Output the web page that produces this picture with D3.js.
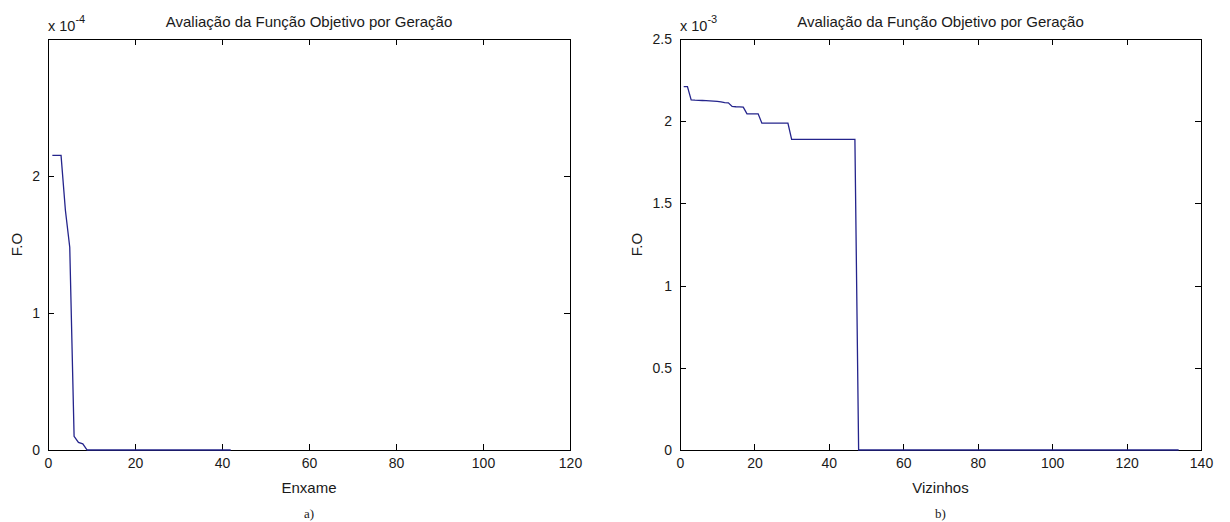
<!DOCTYPE html>
<html>
<head>
<meta charset="utf-8">
<script src="https://cdn.jsdelivr.net/npm/d3@7"></script>
<style>
  body { margin: 0; background: white; }
  svg { display: block; font-family: "Liberation Sans", Arial, sans-serif; }
  .frame { fill: none; stroke: black; stroke-width: 1px; shape-rendering: crispEdges; }
  .axis path { display: none; }
  .axis line { stroke: black; stroke-width: 1px; shape-rendering: crispEdges; }
  .axis text { font-size: 14px; fill: #1a1a1a; font-family: "Liberation Sans", Arial, sans-serif; }
  .title, .xlabel, .ylabel { font-size: 15px; fill: #1a1a1a; }
  .expo { font-size: 14.5px; fill: #1a1a1a; }
  .sub { font-family: "Liberation Serif", "Times New Roman", serif; font-size: 13px; fill: #1a1a1a; }
  .line { fill: none; stroke: #24248c; stroke-width: 1.3px; }
</style>
</head>
<body>
<svg id="svg" width="1230" height="522"></svg>
<script>
// chart a) Enxame  (F.O in units of 1e-4), one value per generation starting at 1
var enxameFO = [
  2.15, 2.15, 2.15, 1.75, 1.48, 0.10, 0.055, 0.045, 0, 0,
  0, 0, 0, 0, 0, 0, 0, 0, 0, 0,
  0, 0, 0, 0, 0, 0, 0, 0, 0, 0,
  0, 0, 0, 0, 0, 0, 0, 0, 0, 0,
  0, 0
];
var enxameXTicks = [0, 20, 40, 60, 80, 100, 120];
var enxameYTicks = [0, 1, 2];

// chart b) Vizinhos  (F.O in units of 1e-3)
var vizinhosFO = [
  2.21, 2.21, 2.13, 2.128, 2.127, 2.126, 2.125, 2.124, 2.122, 2.12,
  2.117, 2.113, 2.112, 2.09, 2.088, 2.087, 2.086, 2.045, 2.045, 2.045,
  2.045, 1.988, 1.988, 1.988, 1.988, 1.988, 1.988, 1.988, 1.988, 1.89,
  1.89, 1.89, 1.89, 1.89, 1.89, 1.89, 1.89, 1.89, 1.89, 1.89,
  1.89, 1.89, 1.89, 1.89, 1.89, 1.89, 1.89, 0, 0, 0,
  0, 0, 0, 0, 0, 0, 0, 0, 0, 0,
  0, 0, 0, 0, 0, 0, 0, 0, 0, 0,
  0, 0, 0, 0, 0, 0, 0, 0, 0, 0,
  0, 0, 0, 0, 0, 0, 0, 0, 0, 0,
  0, 0, 0, 0, 0, 0, 0, 0, 0, 0,
  0, 0, 0, 0, 0, 0, 0, 0, 0, 0,
  0, 0, 0, 0, 0, 0, 0, 0, 0, 0,
  0, 0, 0, 0, 0, 0, 0, 0, 0, 0,
  0, 0, 0, 0
];
var vizinhosXTicks = [0, 20, 40, 60, 80, 100, 120, 140];
var vizinhosYTicks = [0, 0.5, 1, 1.5, 2, 2.5];

var titleText = "Avaliação da Função Objetivo por Geração";

var svg = d3.select("#svg");

function drawPanel(p) {
  var w = p.right - p.left, h = p.bottom - p.top;
  var g = svg.append("g").attr("transform", "translate(" + p.left + "," + p.top + ")");

  var x = d3.scaleLinear().domain(p.xDomain).range([0, w]);
  var y = d3.scaleLinear().domain(p.yDomain).range([h, 0]);

  var fmt = function(d) { return String(d); };

  g.append("g").attr("class", "x axis").attr("transform", "translate(0," + h + ")")
    .call(d3.axisBottom(x).tickValues(p.xTicks).tickSizeInner(-6).tickSizeOuter(0)
      .tickPadding(8).tickFormat(fmt));
  g.append("g").attr("class", "x axis")
    .call(d3.axisTop(x).tickValues(p.xTicks).tickSizeInner(-6).tickSizeOuter(0)
      .tickFormat(""));
  g.append("g").attr("class", "y axis")
    .call(d3.axisLeft(y).tickValues(p.yTicks).tickSizeInner(-6).tickSizeOuter(0)
      .tickPadding(8).tickFormat(fmt));
  g.append("g").attr("class", "y axis").attr("transform", "translate(" + w + ",0)")
    .call(d3.axisRight(y).tickValues(p.yTicks).tickSizeInner(-6).tickSizeOuter(0)
      .tickFormat(""));

  g.append("rect").attr("class", "frame").attr("x", 0).attr("y", 0)
    .attr("width", w).attr("height", h);

  var line = d3.line()
    .x(function(d, i) { return x(i + 1); })
    .y(function(d) { return y(d); });
  g.append("path").datum(p.values).attr("class", "line").attr("d", line);

  // exponent marker above the y axis
  var ex = g.append("text").attr("class", "expo").attr("x", 0).attr("y", -8);
  ex.append("tspan").text("x 10");
  ex.append("tspan").attr("dy", -8).attr("font-size", "11px").text(p.expo);

  g.append("text").attr("class", "title").attr("text-anchor", "middle")
    .attr("x", w / 2).attr("y", -12).text(titleText);

  g.append("text").attr("class", "xlabel").attr("text-anchor", "middle")
    .attr("x", w / 2).attr("y", h + 43).text(p.xLabel);

  g.append("text").attr("class", "ylabel").attr("text-anchor", "middle")
    .attr("transform", "translate(" + (p.yLabelX - p.left) + "," + (h / 2) + ") rotate(-90)")
    .text("F.O");

  g.append("text").attr("class", "sub").attr("text-anchor", "middle")
    .attr("x", w / 2).attr("y", h + 68).text(p.sub);
}

drawPanel({
  left: 48, right: 570, top: 39, bottom: 450,
  xDomain: [0, 120], yDomain: [0, 3],
  xTicks: enxameXTicks, yTicks: enxameYTicks,
  values: enxameFO, expo: "-4", xLabel: "Enxame", sub: "a)", yLabelX: 22
});

drawPanel({
  left: 680, right: 1201, top: 39, bottom: 450,
  xDomain: [0, 140], yDomain: [0, 2.5],
  xTicks: vizinhosXTicks, yTicks: vizinhosYTicks,
  values: vizinhosFO, expo: "-3", xLabel: "Vizinhos", sub: "b)", yLabelX: 642
});
</script>
</body>
</html>
